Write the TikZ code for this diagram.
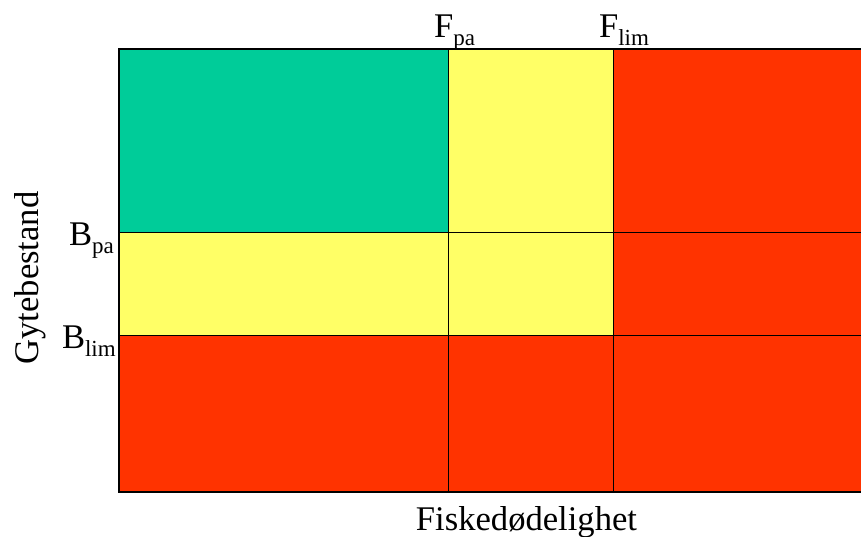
\documentclass[tikz,border=0pt]{standalone}
\usepackage{fontspec}
\setmainfont{Liberation Serif}
\definecolor{cgreen}{HTML}{00CC99}
\definecolor{cyellow}{HTML}{FFFF66}
\definecolor{cred}{HTML}{FF3300}
\newcommand{\subpart}[1]{\raisebox{-8pt}{\fontsize{23}{23}\selectfont #1}}
\begin{document}
\begin{tikzpicture}[x=1pt,y=-1pt,
  cell/.style={draw=black,line width=0.9pt},
  lbl/.style={inner sep=0pt,outer sep=0pt,font=\fontsize{34.6}{40}\selectfont},
  lblb/.style={lbl,anchor=base west}]
\useasboundingbox (0,0) rectangle (861,536);
% cells
\filldraw[cell,fill=cgreen]  (119,49)    rectangle (448.5,232);
\filldraw[cell,fill=cyellow] (448.5,49)  rectangle (613.5,232);
\filldraw[cell,fill=cred]    (613.5,49)  rectangle (870,232);
\filldraw[cell,fill=cyellow] (119,232)   rectangle (448.5,335);
\filldraw[cell,fill=cyellow] (448.5,232) rectangle (613.5,335);
\filldraw[cell,fill=cred]    (613.5,232) rectangle (870,335);
\filldraw[cell,fill=cred]    (119,335)   rectangle (448.5,492);
\filldraw[cell,fill=cred]    (448.5,335) rectangle (613.5,492);
\filldraw[cell,fill=cred]    (613.5,335) rectangle (870,492);
\draw[line width=1.3pt] (870,49) -- (119,49) -- (119,492) -- (870,492);
% labels
\node[lblb] (fpa)  at (434,37)  {F\subpart{pa}};
\node[lblb] (flim) at (599,37)  {F\subpart{lim}};
\node[lblb] (bpa)  at (69,245)  {B\subpart{pa}};
\node[lblb] (blim) at (62,348)  {B\subpart{lim}};
\node[lbl,anchor=base,rotate=90] (ylab) at (38,278) {Gytebestand};
\node[lbl,anchor=base] (xlab) at (526.5,530) {Fiskedødelighet};
\end{tikzpicture}
\end{document}
